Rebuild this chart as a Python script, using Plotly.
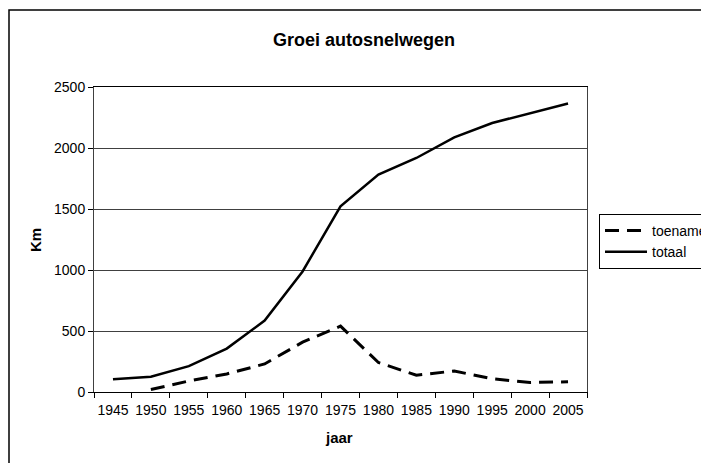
import plotly.graph_objects as go

# data
jaren = ["1945", "1950", "1955", "1960", "1965", "1970", "1975",
         "1980", "1985", "1990", "1995", "2000", "2005"]
totaal = [105, 125, 212, 356, 585, 988, 1522, 1782, 1918, 2087, 2205, 2283, 2365]
toename = [None, 20, 90, 148, 230, 408, 540, 242, 138, 172, 108, 78, 84]

FONT = "Liberation Sans, Arial, sans-serif"

# page body margin shifts the figure by 8px, so work in screen pixels
OFF = 8
W, H = 709, 463
L, R, T, B = 94 - OFF, 587 - OFF, 87 - OFF, 392 - OFF


def px_x(px):
    return (px - OFF - L) / (R - L)


def px_y(py):
    return (B - (py - OFF)) / (B - T)


fig = go.Figure()

fig.add_trace(go.Scatter(
    x=jaren, y=toename, name="toename", mode="lines",
    line=dict(color="black", width=3, dash="14px,8px"),
))
fig.add_trace(go.Scatter(
    x=jaren, y=totaal, name="totaal", mode="lines",
    line=dict(color="black", width=2.5),
))

fig.update_layout(
    width=W, height=H,
    margin=dict(l=L, r=W - R, t=T, b=H - B, autoexpand=False),
    paper_bgcolor="white", plot_bgcolor="white",
    font=dict(family=FONT, size=14, color="black"),
    title=dict(
        text="<b>Groei autosnelwegen</b>",
        font=dict(family=FONT, size=18, color="black"),
        xref="container", yref="container",
        x=(364 - OFF) / W, y=1 - (40 - OFF) / H, xanchor="center", yanchor="middle",
    ),
    legend=dict(
        x=px_x(599), y=px_y(214), xanchor="left", yanchor="top",
        bordercolor="black", borderwidth=1, bgcolor="white",
        font=dict(family=FONT, size=14, color="black"),
        tracegroupgap=0, itemwidth=42,
    ),
    showlegend=True,
)

fig.update_xaxes(
    type="category", range=[-0.5, 12.5],
    showline=True, linecolor="black", linewidth=1, mirror=True,
    ticks="outside", ticklen=5, tickcolor="black", tickson="boundaries",
    showgrid=False, zeroline=False, tickangle=0, ticklabelstandoff=5,
    tickfont=dict(family=FONT, size=14, color="black"),
)
fig.update_yaxes(
    range=[0, 2500], dtick=500,
    showline=True, linecolor="#404040", linewidth=1, mirror=True,
    ticks="outside", ticklen=5, tickcolor="black",
    showgrid=True, gridcolor="#404040", gridwidth=1, zeroline=False,
    tickfont=dict(family=FONT, size=14, color="black"),
)

# axis titles
fig.add_annotation(
    text="<b>Km</b>", xref="paper", yref="paper",
    x=px_x(35), y=px_y(240), showarrow=False, textangle=-90,
    xanchor="center", yanchor="middle",
    font=dict(family=FONT, size=15, color="black"),
)
fig.add_annotation(
    text="<b>jaar</b>", xref="paper", yref="paper",
    x=px_x(339), y=px_y(438), showarrow=False,
    xanchor="center", yanchor="middle",
    font=dict(family=FONT, size=15, color="black"),
)

# chart border (right and bottom fall outside the picture)
fig.add_shape(
    type="rect", xref="paper", yref="paper",
    x0=px_x(9), x1=px_x(716), y0=px_y(480), y1=px_y(10),
    line=dict(color="black", width=1.5), layer="above",
)

fig.write_html("out.html")
